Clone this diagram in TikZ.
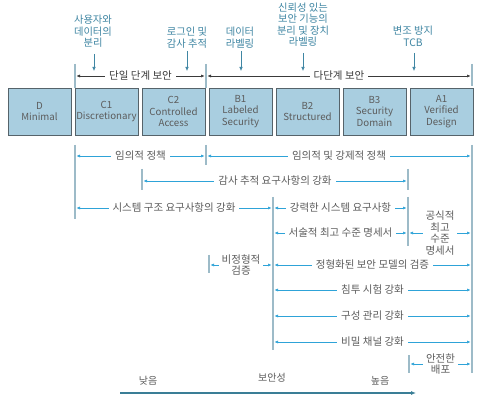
\documentclass[tikz,border=0pt]{standalone}
\usepackage{fontspec}
\setmainfont{Noto Sans CJK KR}
\usetikzlibrary{arrows.meta,shadows}
\definecolor{boxfill}{HTML}{A9CEE0}
\definecolor{boxline}{HTML}{56636A}
\definecolor{blueline}{HTML}{2EA3D8}
\definecolor{barline}{HTML}{9DBBC8}
\definecolor{txtgrey}{HTML}{5C5C5C}
\definecolor{toplabel}{HTML}{3F86A3}
\definecolor{axiscol}{HTML}{3A7E96}
\definecolor{darkline}{HTML}{3A3A3A}
\begin{document}
\begin{tikzpicture}[x=1pt,y=-1pt,
  lvl/.style={draw=boxline, fill=boxfill, line width=0.8pt, minimum width=63pt, minimum height=47pt,
    inner sep=0pt, align=center, font=\fontsize{9.7}{11.5}\selectfont, text=txtgrey,
    drop shadow={shadow xshift=1.2pt, shadow yshift=-1.2pt, fill=black!45, opacity=1}},
  vbar/.style={draw=barline, line width=1.4pt},
  rng/.style={draw=blueline, line width=0.6pt, {Latex[length=3.5pt,width=3pt]}-{Latex[length=3.5pt,width=3pt]},
    shorten <=1.5pt, shorten >=1.5pt},
  toprng/.style={draw=darkline, line width=0.5pt, {Latex[length=3.5pt,width=3pt]}-{Latex[length=3.5pt,width=3pt]},
    shorten <=1.5pt, shorten >=1.5pt},
  downarr/.style={draw=toplabel, line width=0.6pt, -{Latex[length=4pt,width=3.5pt]}},
  lbl/.style={fill=white, inner xsep=4pt, inner ysep=0.5pt, text=txtgrey, align=center,
    font=\fontsize{10.5}{11.5}\selectfont},
  toplbl/.style={lbl, text=darkline},
  note/.style={text=toplabel, align=center, inner sep=0pt, font=\fontsize{10.3}{11.5}\selectfont},
  axlbl/.style={text=txtgrey, inner sep=0pt, font=\fontsize{10}{11}\selectfont}
]
\useasboundingbox[fill=white] (0,0) rectangle (480,401);

% level boxes
\node[lvl] (D)  at (39.5,111.5)  {D\\Minimal};
\node[lvl] (C1) at (106.5,111.5) {C1\\Discretionary};
\node[lvl] (C2) at (173.5,111.5) {C2\\Controlled\\Access};
\node[lvl] (B1) at (240.5,111.5) {B1\\Labeled\\Security};
\node[lvl] (B2) at (307.5,111.5) {B2\\Structured};
\node[lvl] (B3) at (374.5,111.5) {B3\\Security\\Domain};
\node[lvl] (A1) at (441.5,111.5) {A1\\Verified\\Design};

% top notes
\node[note] (n1) at (93,31.5)  {사용자와\\데이터의\\분리};
\node[note] (n2) at (187,37.5) {로그인 및\\감사 추적};
\node[note] (n3) at (240,37.5) {데이터\\라벨링};
\node[note] (n4) at (303,24.5) {신뢰성 있는\\보안 기능의\\분리 및 장치\\라벨링};
\node[note] (n5) at (413,36.5) {변조 방지\\TCB};
\coordinate (d1a) at (94,54);  \coordinate (d1b) at (94,71);
\coordinate (d2a) at (187,51); \coordinate (d2b) at (187,71);
\coordinate (d3a) at (241,51); \coordinate (d3b) at (241,71);
\coordinate (d4a) at (303,53); \coordinate (d4b) at (303,71);
\coordinate (d5a) at (414,53); \coordinate (d5b) at (414,71);
\foreach \i in {1,...,5} \draw[downarr] (d\i a) -- (d\i b);

% top range
\coordinate (tb1a) at (75,64);  \coordinate (tb1b) at (75,88);
\coordinate (tb2a) at (206,64); \coordinate (tb2b) at (206,88);
\coordinate (tb3a) at (472,64); \coordinate (tb3b) at (472,86);
\foreach \i in {1,2,3} \draw[vbar] (tb\i a) -- (tb\i b);
\coordinate (s1) at (75,76); \coordinate (s2) at (206,76); \coordinate (s3) at (472,76);
\draw[toprng] (s1) -- (s2) node[toplbl, midway] (single) {단일 단계 보안};
\draw[toprng] (s2) -- (s3) node[toplbl, midway] (multi) {다단계 보안};

% vertical bars
\coordinate (v1a) at (75,145);  \coordinate (v1b) at (75,219);
\coordinate (v2a) at (206,145); \coordinate (v2b) at (206,165);
\coordinate (v3a) at (142,169); \coordinate (v3b) at (142,190);
\coordinate (v4a) at (408,169); \coordinate (v4b) at (408,190);
\coordinate (v5a) at (408,197); \coordinate (v5b) at (408,246);
\coordinate (v6a) at (273,197); \coordinate (v6b) at (273,350);
\coordinate (v7a) at (472,145); \coordinate (v7b) at (472,373);
\coordinate (v8a) at (209,255); \coordinate (v8b) at (209,273);
\coordinate (v9a) at (409,355); \coordinate (v9b) at (409,373);
\foreach \i in {1,...,9} \draw[vbar] (v\i a) -- (v\i b);

% rows
\coordinate (r1a) at (75,156); \coordinate (r1b) at (206,156); \coordinate (r1c) at (472,156);
\draw[rng] (r1a) -- (r1b) node[lbl, midway] (l1) {임의적 정책};
\draw[rng] (r1b) -- (r1c) node[lbl, midway] (l2) {임의적 및 강제적 정책};

\coordinate (r2a) at (142,181); \coordinate (r2b) at (408,181);
\draw[rng] (r2a) -- (r2b) node[lbl, midway] (l3) {감사 추적 요구사항의 강화};

\coordinate (r3a) at (75,208); \coordinate (r3b) at (273,208); \coordinate (r3c) at (408,208);
\draw[rng] (r3a) -- (r3b) node[lbl, midway] (l4) {시스템 구조 요구사항의 강화};
\draw[rng] (r3b) -- (r3c) node[lbl, midway] (l5) {강력한 시스템 요구사항};

\coordinate (r4a) at (273,233); \coordinate (r4b) at (408,233); \coordinate (r4c) at (472,233);
\draw[rng] (r4a) -- (r4b) node[lbl, midway] (l6) {서술적 최고 수준 명세서};
\draw[rng] (r4b) -- (r4c) node[lbl, midway, inner xsep=3pt] (l7) {공식적\\최고\\수준\\명세서};

\coordinate (r5a) at (209,265); \coordinate (r5b) at (273,265); \coordinate (r5c) at (472,265);
\draw[rng] (r5a) -- (r5b) node[lbl, midway, inner xsep=3pt] (l8) {비정형적\\검증};
\draw[rng] (r5b) -- (r5c) node[lbl, midway] (l9) {정형화된 보안 모델의 검증};

\coordinate (r6a) at (273,290); \coordinate (r6b) at (472,290);
\draw[rng] (r6a) -- (r6b) node[lbl, midway] (l10) {침투 시험 강화};
\coordinate (r7a) at (273,316); \coordinate (r7b) at (472,316);
\draw[rng] (r7a) -- (r7b) node[lbl, midway] (l11) {구성 관리 강화};
\coordinate (r8a) at (273,342); \coordinate (r8b) at (472,342);
\draw[rng] (r8a) -- (r8b) node[lbl, midway] (l12) {비밀 채널 강화};
\coordinate (r9a) at (409,364); \coordinate (r9b) at (472,364);
\draw[rng] (r9a) -- (r9b) node[lbl, midway, inner xsep=3pt] (l13) {안전한\\배포};

% security axis
\node[axlbl] (low)  at (148,381) {낮음};
\node[axlbl] (mid)  at (272,378) {보안성};
\node[axlbl] (high) at (380,381) {높음};
\coordinate (ax1) at (120,393); \coordinate (ax2) at (416,393);
\draw[draw=axiscol, line width=1.8pt, -{Latex[length=5pt,width=4pt]}] (ax1) -- (ax2);
\end{tikzpicture}
\end{document}
